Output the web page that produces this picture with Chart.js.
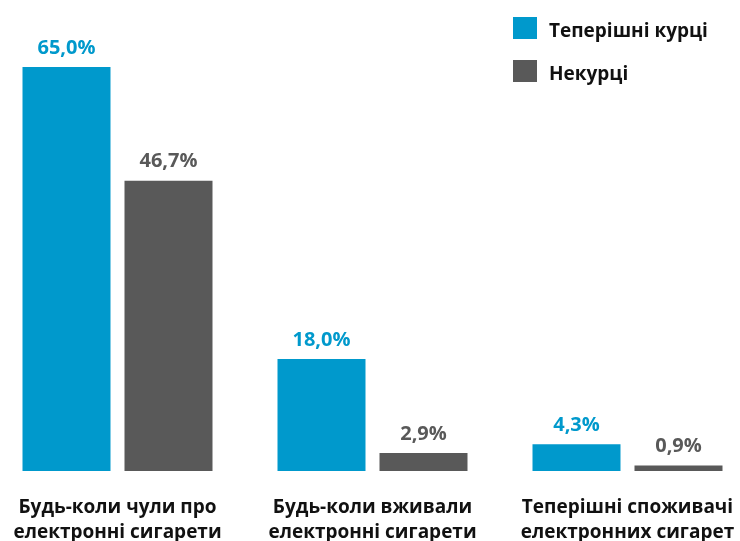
<!DOCTYPE html>
<html>
<head>
<meta charset="utf-8">
<script src="https://cdn.jsdelivr.net/npm/chart.js@4"></script>
<style>
  html, body { margin: 0; padding: 0; background: #fff; overflow: hidden; }
  body { width: 740px; height: 541px; position: relative; font-family: "Open Sans", sans-serif; }
  #wrap { position: absolute; left: -10px; top: 0; width: 765px; height: 541px; }
  #legend { position: absolute; left: 513px; top: 17px; }
  .item { height: 43px; display: flex; align-items: flex-start; }
  .box { width: 24px; height: 22px; margin-right: 12px; }
  .txt { font-weight: bold; font-size: 19px; color: #111; line-height: 26px; }
</style>
</head>
<body>
<div id="wrap"><canvas id="myChart" width="765" height="541"></canvas></div>
<div id="legend"></div>
<script>
var categorias = [
  ["Будь-коли чули про", "електронні сигарети"],
  ["Будь-коли вживали", "електронні сигарети"],
  ["Теперішні споживачі", "електронних сигарет"]
];
var kurtsi = [65.0, 18.0, 4.3];
var nekurtsi = [46.7, 2.9, 0.9];
var nazvy = ["Теперішні курці", "Некурці"];
var kolory = ["#0099CC", "#595959"];

var legendHtml = "";
nazvy.forEach(function (n, i) {
  legendHtml += '<div class="item"><div class="box" style="background:' + kolory[i] + '"></div>';
  legendHtml += '<div class="txt">' + n + "</div></div>";
});
document.getElementById("legend").innerHTML = legendHtml;

var valueLabels = {
  id: "valueLabels",
  afterDatasetsDraw: function (chart) {
    var ctx = chart.ctx;
    ctx.save();
    ctx.font = "bold 20px 'Open Sans'";
    ctx.textAlign = "center";
    ctx.textBaseline = "middle";
    chart.data.datasets.forEach(function (ds, i) {
      ctx.fillStyle = ds.backgroundColor;
      chart.getDatasetMeta(i).data.forEach(function (bar, j) {
        var t = ds.data[j].toFixed(1).replace(".", ",") + "%";
        ctx.fillText(t, bar.x, bar.y - 19);
      });
    });
    ctx.restore();
  },
};

const ctx = document.getElementById("myChart").getContext("2d");
new Chart(ctx, {
  type: "bar",
  data: {
    labels: categorias,
    datasets: [
      { label: nazvy[0], data: kurtsi, backgroundColor: kolory[0] },
      { label: nazvy[1], data: nekurtsi, backgroundColor: kolory[1] },
    ],
  },
  options: {
    responsive: false,
    animation: false,
    layout: { padding: { top: 67, left: 0, right: 0, bottom: 0 } },
    datasets: { bar: { categoryPercentage: 0.8, barPercentage: 0.8627 } },
    plugins: { legend: { display: false }, tooltip: { enabled: false } },
    scales: {
      y: { display: false, min: 0, max: 65 },
      x: {
        grid: { display: false },
        border: { display: false },
        ticks: {
          color: "#111",
          font: { family: "Open Sans", size: 19, weight: "bold", lineHeight: 1.32 },
          padding: 16,
          maxRotation: 0,
          autoSkip: false,
        },
        afterFit: function (scale) { scale.height = 70; },
      },
    },
  },
  plugins: [valueLabels],
});
</script>
</body>
</html>
